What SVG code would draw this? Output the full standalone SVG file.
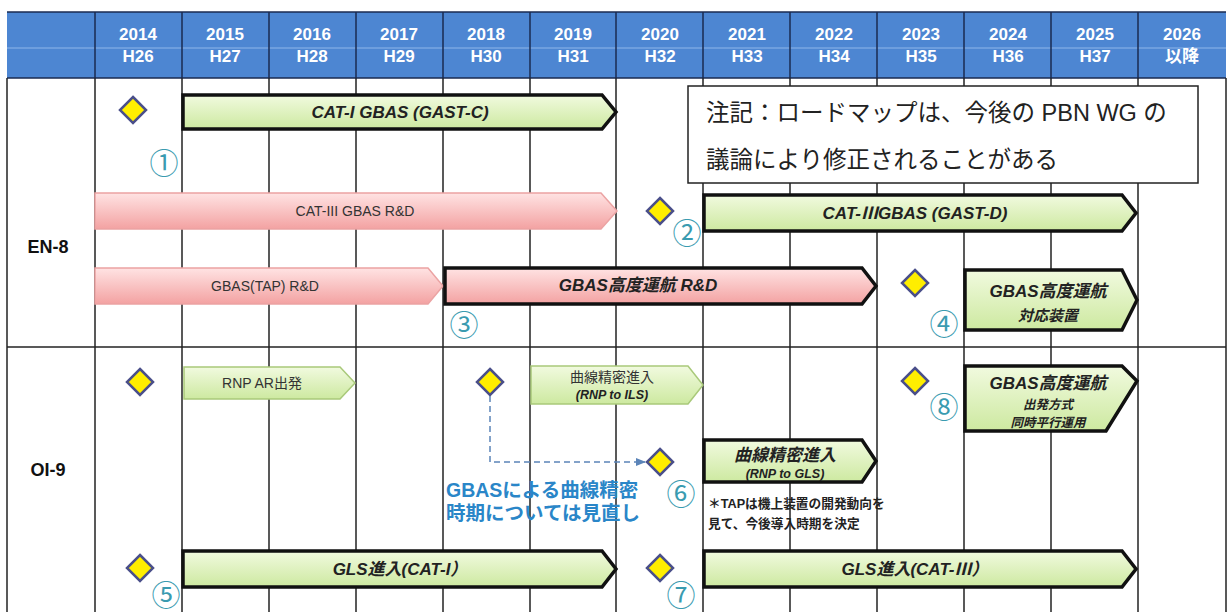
<svg xmlns="http://www.w3.org/2000/svg" width="1231" height="612" viewBox="0 0 1231 612">
<defs>
<linearGradient id="gGreen" x1="0" y1="0" x2="0" y2="1"><stop offset="0" stop-color="#f1fadf"/><stop offset="1" stop-color="#cde9a0"/></linearGradient>
<linearGradient id="gPink" x1="0" y1="0" x2="0" y2="1"><stop offset="0" stop-color="#ffe3e3"/><stop offset="1" stop-color="#f3a2a2"/></linearGradient>
<marker id="mBlue" viewBox="0 0 10 10" refX="9" refY="5" markerWidth="7" markerHeight="7" orient="auto"><path d="M0,1 L10,5 L0,9 z" fill="#5b84b8"/></marker>
<style>
.hdr{font-family:"Liberation Sans","Noto Sans CJK JP",sans-serif;font-weight:bold;font-size:17px;fill:#fff;text-anchor:middle}
.grid{stroke:#222;stroke-width:1.5;fill:none}
.hgrid{stroke:#1a2a50;stroke-width:1.5}
.lbl{font-family:"Liberation Sans",sans-serif;font-weight:bold;font-size:18px;fill:#111;text-anchor:middle}
.dia{fill:#ffee00;stroke:#4a4f8a;stroke-width:2.5}
.num{font-family:"Noto Sans CJK JP","DejaVu Sans",sans-serif;font-size:29px;fill:#3a9bb0;text-anchor:middle}
.bar{fill:url(#gGreen);stroke:#111;stroke-width:3.5}
.barL{fill:url(#gGreen);stroke:#a9c97a;stroke-width:1.5}
.pink{fill:url(#gPink);stroke:#eba3a3;stroke-width:1.5}
.pinkB{fill:url(#gPink);stroke:#111;stroke-width:3.5}
.bt{font-family:"Liberation Sans","Noto Sans CJK JP",sans-serif;font-weight:bold;font-style:italic;font-size:17px;fill:#222;text-anchor:middle}
.bts{font-family:"Liberation Sans","Noto Sans CJK JP",sans-serif;font-weight:bold;font-style:italic;font-size:12.5px;fill:#222;text-anchor:middle}
.btm{font-family:"Liberation Sans","Noto Sans CJK JP",sans-serif;font-weight:bold;font-style:italic;font-size:15px;fill:#222;text-anchor:middle}
.nt{font-family:"Liberation Sans","Noto Sans CJK JP",sans-serif;font-size:14px;fill:#333;text-anchor:middle}
.note{font-family:"Liberation Sans","Noto Sans CJK JP",sans-serif;font-size:23.5px;fill:#222}
.blue{font-family:"Liberation Sans","Noto Sans CJK JP",sans-serif;font-weight:bold;font-size:19.5px;fill:#2a86c8}
.tap{font-family:"Liberation Sans","Noto Sans CJK JP",sans-serif;font-weight:bold;font-size:12.7px;fill:#222}
</style>
</defs>
<rect width="1231" height="612" fill="#fff"/>

<g id="header">
<rect x="7" y="12" width="1219" height="66" fill="#4d86d2"/>
<line x1="7" y1="48" x2="1226" y2="48" stroke="#8fb6ea" stroke-width="1"/>
<g class="hgrid">
<line x1="7" y1="12" x2="1226" y2="12"/><line x1="7" y1="78" x2="1226" y2="78"/>
<line x1="95" y1="12" x2="95" y2="78"/><line x1="182" y1="12" x2="182" y2="78"/><line x1="269" y1="12" x2="269" y2="78"/><line x1="356" y1="12" x2="356" y2="78"/><line x1="443" y1="12" x2="443" y2="78"/><line x1="530" y1="12" x2="530" y2="78"/><line x1="616" y1="12" x2="616" y2="78"/><line x1="703" y1="12" x2="703" y2="78"/><line x1="790" y1="12" x2="790" y2="78"/><line x1="877" y1="12" x2="877" y2="78"/><line x1="964" y1="12" x2="964" y2="78"/><line x1="1051" y1="12" x2="1051" y2="78"/><line x1="1138" y1="12" x2="1138" y2="78"/>
</g>
<text class="hdr" x="138" y="40">2014</text><text class="hdr" x="138" y="62">H26</text>
<text class="hdr" x="225" y="40">2015</text><text class="hdr" x="225" y="62">H27</text>
<text class="hdr" x="312" y="40">2016</text><text class="hdr" x="312" y="62">H28</text>
<text class="hdr" x="399" y="40">2017</text><text class="hdr" x="399" y="62">H29</text>
<text class="hdr" x="486" y="40">2018</text><text class="hdr" x="486" y="62">H30</text>
<text class="hdr" x="573" y="40">2019</text><text class="hdr" x="573" y="62">H31</text>
<text class="hdr" x="660" y="40">2020</text><text class="hdr" x="660" y="62">H32</text>
<text class="hdr" x="747" y="40">2021</text><text class="hdr" x="747" y="62">H33</text>
<text class="hdr" x="834" y="40">2022</text><text class="hdr" x="834" y="62">H34</text>
<text class="hdr" x="921" y="40">2023</text><text class="hdr" x="921" y="62">H35</text>
<text class="hdr" x="1008" y="40">2024</text><text class="hdr" x="1008" y="62">H36</text>
<text class="hdr" x="1095" y="40">2025</text><text class="hdr" x="1095" y="62">H37</text>
<text class="hdr" x="1182" y="40">2026</text><text class="hdr" x="1182" y="62">以降</text>
</g>

<g id="grid" class="grid">
<line x1="7" y1="78" x2="7" y2="612"/>
<line x1="95" y1="78" x2="95" y2="612"/><line x1="182" y1="78" x2="182" y2="612"/><line x1="269" y1="78" x2="269" y2="612"/><line x1="356" y1="78" x2="356" y2="612"/><line x1="443" y1="78" x2="443" y2="612"/><line x1="530" y1="78" x2="530" y2="612"/><line x1="616" y1="78" x2="616" y2="612"/><line x1="703" y1="78" x2="703" y2="612"/><line x1="790" y1="78" x2="790" y2="612"/><line x1="877" y1="78" x2="877" y2="612"/><line x1="964" y1="78" x2="964" y2="612"/><line x1="1051" y1="78" x2="1051" y2="612"/><line x1="1138" y1="78" x2="1138" y2="612"/><line x1="1226" y1="78" x2="1226" y2="612"/>
<line x1="7" y1="347" x2="1226" y2="347"/>
</g>

<g id="rowlabels">
<text class="lbl" x="48" y="253">EN-8</text>
<text class="lbl" x="48" y="476">OI-9</text>
</g>

<g id="en8">
<g id="m1"><path class="dia" d="M133,97 L146,110 L133,123 L120,110 z"/><text class="num" x="164" y="174">①</text></g>
<g id="catI"><path class="bar" d="M183,95 L602,95 L616,112 L602,129 L183,129 z"/><text class="bt" x="400" y="118">CAT-I GBAS (GAST-C)</text></g>
<g id="cat3rd"><path class="pink" d="M95,193 L601,193 L617,211 L601,229 L95,229 z"/><text class="nt" x="355" y="216">CAT-III GBAS R&amp;D</text></g>
<g id="m2"><path class="dia" d="M660,198 L673,211 L660,224 L647,211 z"/><text class="num" x="687" y="244">②</text></g>
<g id="cat3"><path class="bar" d="M704,195 L1122,195 L1136,213 L1122,231 L704,231 z"/><text class="bt" x="915" y="219">CAT-ⅢGBAS (GAST-D)</text></g>
<g id="taprd"><path class="pink" d="M95,268 L428,268 L443,286 L428,304 L95,304 z"/><text class="nt" x="265" y="291">GBAS(TAP) R&amp;D</text></g>
<g id="advrd"><path class="pinkB" d="M445,268 L862,268 L876,286 L862,304 L445,304 z"/><text class="bt" x="638" y="291">GBAS高度運航 R&amp;D</text></g>
<text id="m3" class="num" x="464" y="336">③</text>
<g id="m4"><path class="dia" d="M915,270 L928,283 L915,296 L902,283 z"/><text class="num" x="944" y="335">④</text></g>
<g id="advdev"><path class="bar" d="M965,270 L1122,270 L1137,300 L1122,330 L965,330 z"/><text class="bt" x="1048" y="297">GBAS高度運航</text><text class="btm" x="1048" y="321">対応装置</text></g>
</g>

<g id="noteBox">
<rect x="688" y="86" width="510" height="97" fill="#fff" stroke="#222" stroke-width="1.5"/>
<text class="note" x="706" y="121">注記：ロードマップは、今後の PBN WG の</text>
<text class="note" x="706" y="168">議論により修正されることがある</text>
</g>

<g id="oi9">
<path class="dia" d="M140,369 L153,382 L140,395 L127,382 z"/>
<g id="rnpar"><path class="barL" d="M184,367 L340,367 L355,383 L340,399 L184,399 z"/><text class="nt" x="262" y="388">RNP AR出発</text></g>
<path class="dia" d="M490,369 L503,382 L490,395 L477,382 z"/>
<g id="rnpils"><path class="barL" d="M531,366 L688,366 L703,385 L688,404 L531,404 z"/><text class="nt" x="612" y="382">曲線精密進入</text><text class="bts" x="612" y="399">(RNP to ILS)</text></g>
<g id="m8"><path class="dia" d="M915,368 L928,381 L915,394 L902,381 z"/><text class="num" x="944" y="418">⑧</text></g>
<g id="advdep"><path class="bar" d="M965,366 L1122,366 L1137,381 L1106,431 L965,431 z"/><text class="bt" x="1048" y="389">GBAS高度運航</text><text class="bts" x="1048" y="409">出発方式</text><text class="bts" x="1048" y="427">同時平行運用</text></g>
<g id="rnpgls"><path class="bar" d="M704,440 L862,440 L876,461 L862,482 L704,482 z"/><text class="bt" x="785" y="461">曲線精密進入</text><text class="bts" x="785" y="478">(RNP to GLS)</text></g>
<g id="m6"><path class="dia" d="M660,449 L673,462 L660,475 L647,462 z"/><text class="num" x="681" y="505">⑥</text></g>
<text class="blue" x="446" y="497">GBASによる曲線精密</text>
<text class="blue" x="446" y="520">時期については見直し</text>
<text class="tap" x="708" y="508">＊TAPは機上装置の開発動向を</text>
<text class="tap" x="708" y="528">見て、今後導入時期を決定</text>
<g id="m5"><path class="dia" d="M140,555 L153,568 L140,581 L127,568 z"/><text class="num" x="166" y="606">⑤</text></g>
<g id="glsI"><path class="bar" d="M183,551 L602,551 L616,569 L602,587 L183,587 z"/><text class="bt" x="400" y="575">GLS進入(CAT-I）</text></g>
<g id="m7"><path class="dia" d="M660,555 L673,568 L660,581 L647,568 z"/><text class="num" x="681" y="606">⑦</text></g>
<g id="glsIII"><path class="bar" d="M704,551 L1122,551 L1136,569 L1122,587 L704,587 z"/><text class="bt" x="915" y="575">GLS進入(CAT-Ⅲ）</text></g>
</g>

<g id="connectors">
<path d="M490,396 L490,462 L645,462" fill="none" stroke="#5b84b8" stroke-width="1.5" stroke-dasharray="6,4" marker-end="url(#mBlue)"/>
</g>
</svg>
